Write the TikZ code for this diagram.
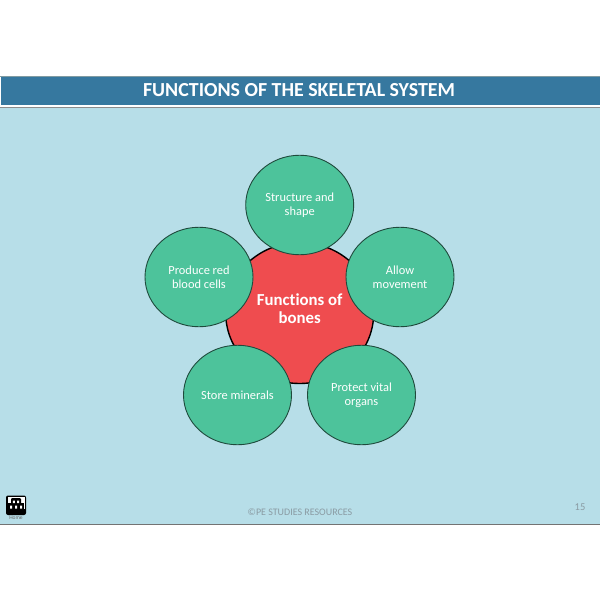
\documentclass[tikz,border=0pt]{standalone}
\usepackage{fontspec}
\setmainfont[Ligatures=NoCommon]{Carlito}
\usetikzlibrary{shapes.geometric}
\definecolor{panel}{HTML}{B7DEE8}
\definecolor{headbar}{HTML}{36789F}
\definecolor{petal}{HTML}{4DC39B}
\definecolor{hub}{HTML}{EF4C4F}
\definecolor{edgeg}{HTML}{1F4A3C}
\definecolor{foot}{HTML}{8A9BA3}
\tikzset{
  petalnode/.style={ellipse,draw=edgeg,line width=0.9pt,fill=petal,minimum width=108pt,minimum height=99.5pt,inner sep=0pt,text=white,align=center,font=\fontsize{12.4}{14}\selectfont},
  hubnode/.style={ellipse,draw=black,line width=1.4pt,fill=hub,minimum width=148pt,minimum height=141pt,inner sep=0pt},
  hubtext/.style={text=white,align=center,inner sep=0pt,font=\bfseries\fontsize{16.8}{18.2}\selectfont},
  footnode/.style={text=foot,inner sep=0pt}
}
\begin{document}
\begin{tikzpicture}[x=1pt,y=-1pt]
\useasboundingbox (0,0) rectangle (600,600);
\fill[white] (0,0) rectangle (600,600);
% panel
\fill[panel] (0,107) rectangle (600,524);
\fill[black!55] (0,524) rectangle (600,525.3);
\fill[black!45] (0,107) rectangle (600,108.2);
\fill[panel!70!black] (0,76) rectangle (600,77);
\fill[headbar] (1,77) rectangle (600,105);
\node[text=white,font=\bfseries\fontsize{19.9}{24}\selectfont,inner sep=0pt] (title) at (299,90.5) {FUNCTIONS OF THE SKELETAL SYSTEM};
% diagram
\node[hubnode] (hub) at (299.7,313) {};
\node[hubtext] (hublabel) at (299.7,309) {Functions of\\bones};
\node[petalnode] (p1) at (299.7,205) {Structure and\\shape};
\node[petalnode] (p2) at (400,277) {Allow\\movement};
\node[petalnode] (p3) at (361.5,395) {Protect vital\\organs};
\node[petalnode] (p4) at (237.5,395) {Store minerals};
\node[petalnode] (p5) at (199,277) {Produce red\\blood cells};
% footer
\node[footnode,font=\fontsize{10}{12}\selectfont] (copy) at (300,512.5) {©PE STUDIES RESOURCES};
\node[footnode,font=\fontsize{10.5}{12}\selectfont] (num) at (580,507.5) {15};
% home icon
\fill[black,rounded corners=2pt] (6,495.5) rectangle (26,515);
\fill[white] (7.5,497) rectangle (24.5,509);
\fill[black,rounded corners=1pt] (11,498) rectangle (21,511);
\fill[black] (8,503) rectangle (24,511);
\fill[white] (12.8,500.5) rectangle (14.8,503) (17.2,500.5) rectangle (19.2,503);
\fill[white] (10,505.5) rectangle (12,508.5) (15,505.5) rectangle (17,508.5) (20,505.5) rectangle (22,508.5);
\node[text=black!60,font=\fontsize{5.5}{7}\selectfont,inner sep=0pt] (home) at (16,518) {Home};
\end{tikzpicture}
\end{document}
